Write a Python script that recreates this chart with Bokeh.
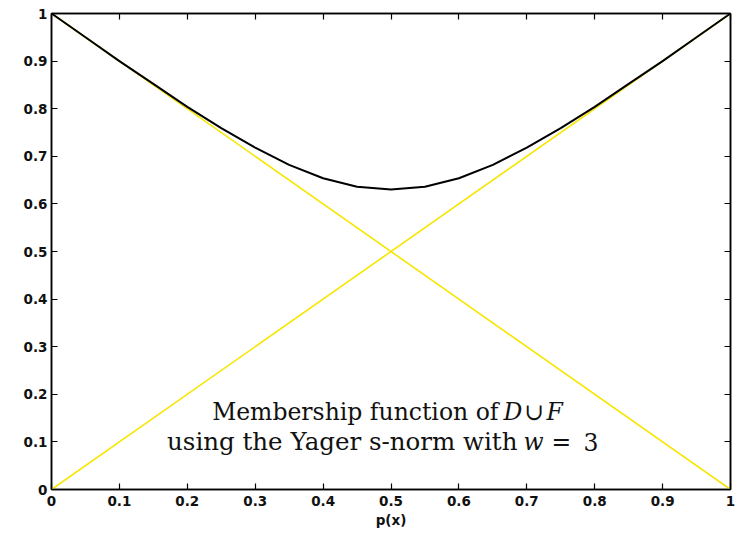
from bokeh.plotting import figure
from bokeh.models import Range1d, LinearAxis, FixedTicker, Label
from bokeh.embed import file_html
from bokeh.resources import INLINE

# data
px = [0.0, 0.05, 0.1, 0.15, 0.2, 0.25, 0.3, 0.35, 0.4, 0.45, 0.5,
      0.55, 0.6, 0.65, 0.7, 0.75, 0.8, 0.85, 0.9, 0.95, 1.0]
union_mu = [1.0, 0.95, 0.90, 0.852, 0.804, 0.759, 0.718, 0.682, 0.654, 0.636, 0.630,
            0.636, 0.654, 0.682, 0.718, 0.759, 0.804, 0.852, 0.90, 0.95, 1.0]
line_x = [0.0, 1.0]
mu_d = [1.0, 0.0]
mu_f = [0.0, 1.0]
ticks = [0, 0.1, 0.2, 0.3, 0.4, 0.5, 0.6, 0.7, 0.8, 0.9, 1]
tick_labels = ["0", "0.1", "0.2", "0.3", "0.4", "0.5", "0.6", "0.7", "0.8", "0.9", "1"]

p = figure(width=738, height=530, output_backend="svg", toolbar_location=None,
           x_range=Range1d(0, 1), y_range=Range1d(0, 1),
           min_border_left=51, min_border_right=8, min_border_top=13, min_border_bottom=37)
p.grid.visible = False
p.outline_line_color = "black"
p.outline_line_width = 1.5
p.background_fill_color = "white"

overrides = {t: l for t, l in zip(ticks, tick_labels)}
for ax in (p.xaxis[0], p.yaxis[0]):
    ax.ticker = FixedTicker(ticks=ticks)
    ax.major_label_overrides = overrides
    ax.major_tick_in = 6
    ax.major_tick_out = 0
    ax.minor_tick_line_color = None
    ax.axis_line_width = 1.5
    ax.major_tick_line_width = 1.2
    ax.major_label_text_font = "DejaVu Sans"
    ax.major_label_text_font_style = "bold"
    ax.major_label_text_font_size = "13.5px"
    ax.major_label_text_color = "#111111"

p.xaxis.major_label_standoff = 6
p.yaxis.major_label_standoff = 4
p.xaxis.axis_label = "p(x)"
p.xaxis.axis_label_text_font = "DejaVu Sans"
p.xaxis.axis_label_text_font_style = "bold"
p.xaxis.axis_label_text_font_size = "13.5px"
p.xaxis.axis_label_text_color = "#111111"
p.xaxis.axis_label_standoff = 3

for loc in ("above", "right"):
    ax = LinearAxis(ticker=FixedTicker(ticks=ticks))
    ax.major_tick_in = 6
    ax.major_tick_out = 0
    ax.minor_tick_line_color = None
    ax.major_label_overrides = {t: "" for t in ticks}
    ax.axis_line_width = 1.5
    ax.major_tick_line_width = 1.2
    p.add_layout(ax, loc)

p.line(line_x, mu_d, line_color="#f7e600", line_width=1.6)
p.line(line_x, mu_f, line_color="#f7e600", line_width=1.6)
p.line(px, union_mu, line_color="black", line_width=2)

serif = "DejaVu Serif"
fs = "23.5px"
def lab(x, y, text, align="left", style="normal", xo=0, size=fs):
    p.add_layout(Label(x=x, y=y, text=text, text_align=align, text_baseline="alphabetic",
                       text_font=serif, text_font_size=size, text_font_style=style,
                       text_color="#111111", x_offset=xo))

lab(0.6583, 0.1625, "Membership function of", align="right")
lab(0.6657, 0.1625, "D", style="italic")
lab(0.6657, 0.1625, "\u222a", xo=21)
lab(0.6657, 0.1625, "F", style="italic", xo=43)

lab(0.6863, 0.10, "using the Yager s-norm with", align="right", size="24.5px")
lab(0.6951, 0.10, "w", style="italic")
lab(0.6951, 0.10, "=", xo=28)
lab(0.6951, 0.10, "3", xo=60)

open("out.html", "w").write(file_html(p, INLINE))
